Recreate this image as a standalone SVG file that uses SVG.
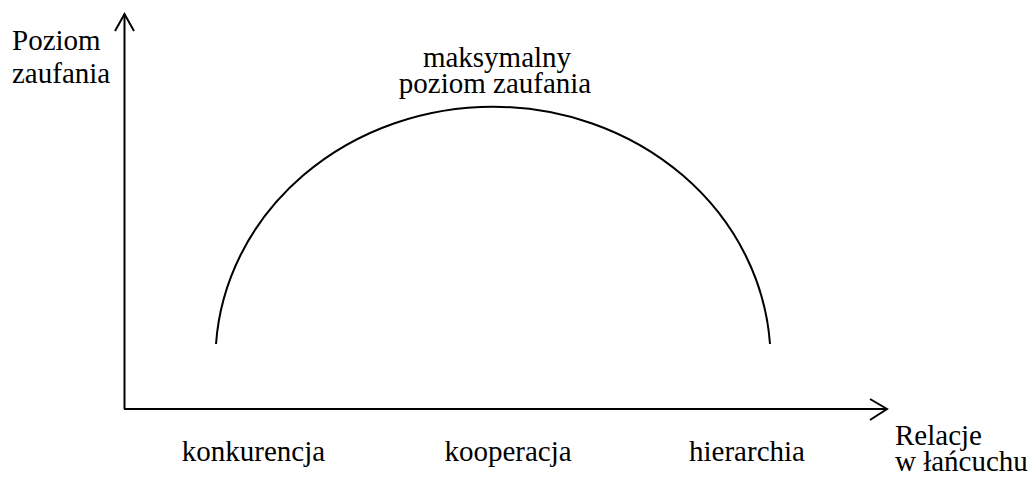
<svg xmlns="http://www.w3.org/2000/svg" width="1029" height="483" viewBox="0 0 1029 483">
<style>
.t{font-family:"Liberation Serif","Times New Roman",serif;font-size:29px;fill:#000}
.ln{fill:none;stroke:#000;stroke-width:2}
</style>
<rect width="1029" height="483" fill="#fff"/>
<g id="connectors">
<line class="ln" x1="124.5" y1="409" x2="124.5" y2="14"/>
<polyline class="ln" points="115,31 124.5,14 134,31"/>
<line class="ln" x1="124" y1="409" x2="887" y2="409"/>
<polyline class="ln" points="870,399 887,409 870,420"/>
<path id="curve" class="ln" d="M216,344 A277.6,254 0 0 1 770,344"/>
</g>
<g id="yLabel"><text class="t" x="12" y="50">Poziom</text><text class="t" x="12" y="83">zaufania</text></g>
<g id="maxLabel"><text class="t" x="497" y="67" text-anchor="middle">maksymalny</text><text class="t" x="495" y="93" text-anchor="middle">poziom zaufania</text></g>
<g id="konkurencja"><text class="t" x="253.5" y="461" text-anchor="middle">konkurencja</text></g>
<g id="kooperacja"><text class="t" x="508" y="461" text-anchor="middle">kooperacja</text></g>
<g id="hierarchia"><text class="t" x="747" y="461" text-anchor="middle">hierarchia</text></g>
<g id="xLabel"><text class="t" x="895" y="445">Relacje</text><text class="t" x="895" y="471">w łańcuchu</text></g>
</svg>
